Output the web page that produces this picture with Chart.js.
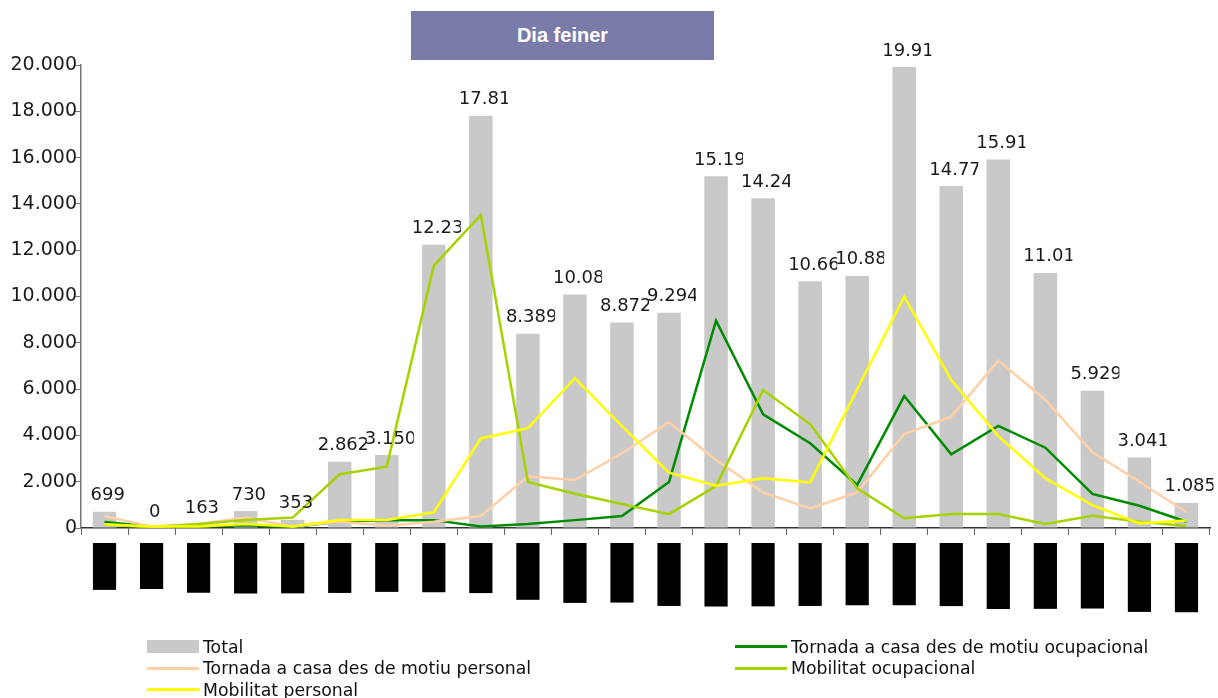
<!DOCTYPE html>
<html>
<head>
<meta charset="utf-8">
<script src="https://cdn.jsdelivr.net/npm/chart.js@4/dist/chart.umd.min.js"></script>
<style>
  body { margin: 0; background: #fff; }
  #wrap { position: relative; width: 1218px; height: 698px; overflow: hidden; }
  #grafic { position: absolute; left: 0; top: 0; }
  #titol {
    position: absolute; left: 411px; top: 11px; width: 303px; height: 49px;
    background: #7b7ba9; color: #fff; font: bold 20px "Liberation Sans", Arial, sans-serif;
    display: flex; align-items: center; justify-content: center;
  }
  #llegenda {
    position: absolute; left: 147px; top: 636px;
    display: grid; grid-template-columns: 588px auto;
    font: 17.3px "DejaVu Sans", sans-serif; color: #111;
  }
  .item { display: flex; align-items: center; height: 21.5px; white-space: nowrap; }
  .mostra { width: 52px; margin-right: 4px; }
</style>
</head>
<body>
<div id="wrap">
  <canvas id="grafic" width="1218" height="698"></canvas>
  <div id="titol">Dia feiner</div>
  <div id="llegenda"></div>
</div>
<script>
// franges horàries (eix x)
const horaris = ['0h-1h', '1h-2h', '2h-3h', '3h-4h', '4h-5h', '5h-6h', '6h-7h', '7h-8h',
  '8h-9h', '9h-10h', '10h-11h', '11h-12h', '12h-13h', '13h-14h', '14h-15h', '15h-16h',
  '16h-17h', '17h-18h', '18h-19h', '19h-20h', '20h-21h', '21h-22h', '22h-23h', '23h-24h'];

const total = [699, 0, 163, 730, 353, 2862, 3150, 12234, 17812, 8389, 10083, 8872,
  9294, 15193, 14245, 10664, 10886, 19913, 14772, 15915, 11017, 5929, 3041, 1085];

const tornadaOcupacional = [260, 60, 60, 120, 40, 280, 340, 340, 60, 170, 340, 520,
  1990, 8960, 4910, 3660, 1860, 5700, 3180, 4410, 3470, 1470, 960, 270];

const tornadaPersonal = [520, 60, 170, 450, 60, 270, 100, 270, 520, 2230, 2070, 3230,
  4570, 2940, 1540, 850, 1540, 4060, 4810, 7240, 5530, 3270, 2000, 680];

const mobilitatOcupacional = [150, 30, 170, 350, 450, 2320, 2650, 11330, 13520, 1990, 1480, 1040,
  600, 1810, 5960, 4490, 1710, 420, 600, 600, 170, 530, 270, 90];

const mobilitatPersonal = [160, 60, 60, 170, 60, 350, 350, 680, 3870, 4310, 6470, 4400,
  2390, 1830, 2150, 1970, 5990, 9990, 6390, 3970, 2150, 990, 200, 320];

const yTicks = [0, 2000, 4000, 6000, 8000, 10000, 12000, 14000, 16000, 18000, 20000];

function fmt(v) {
  return v.toString().replace(/\B(?=(\d{3})+(?!\d))/g, '.');
}

// etiquetes de valor sobre les barres, retallades com a l'original
const etiquetesTotal = {
  id: 'etiquetesTotal',
  afterDatasetsDraw(chart) {
    const ctx = chart.ctx;
    const meta = chart.getDatasetMeta(0);
    ctx.save();
    ctx.font = '18px "DejaVu Sans"';
    ctx.fillStyle = '#1a1a1a';
    ctx.textBaseline = 'alphabetic';
    meta.data.forEach((bar, i) => {
      const text = fmt(total[i]);
      const left = bar.x - 22, right = bar.x + 27;
      const w = ctx.measureText(text).width;
      const x = w <= 49.5 ? bar.x + 3.25 - w / 2 : left;
      ctx.save();
      ctx.beginPath();
      ctx.rect(left - 10, bar.y - 40, right - left + 10, 40);
      ctx.clip();
      ctx.fillText(text, x, bar.y - 11.5);
      ctx.restore();
    });
    ctx.restore();
  }
};

const linia = (label, data, color, order) => ({
  type: 'line', label, data, borderColor: color, backgroundColor: color,
  borderWidth: 2.5, pointRadius: 0, tension: 0, fill: false, order
});

const chart = new Chart(document.getElementById('grafic'), {
  type: 'bar',
  data: {
    labels: horaris,
    datasets: [
      { type: 'bar', label: 'Total', data: total, backgroundColor: '#c9c9c9',
        barPercentage: 0.5, categoryPercentage: 1, order: 5 },
      linia('Tornada a casa des de motiu ocupacional', tornadaOcupacional, '#008c00', 4),
      linia('Tornada a casa des de motiu personal', tornadaPersonal, '#ffcfa6', 3),
      linia('Mobilitat ocupacional', mobilitatOcupacional, '#a6d200', 2),
      linia('Mobilitat personal', mobilitatPersonal, '#ffff00', 1)
    ]
  },
  options: {
    responsive: false,
    animation: false,
    layout: { padding: { left: 0, right: 8, top: 65, bottom: 0 } },
    plugins: { legend: { display: false }, tooltip: { enabled: false } },
    scales: {
      x: {
        offset: true,
        grid: { offset: true, drawOnChartArea: false, tickLength: 7, color: '#666' },
        border: { color: '#333', width: 1.5 },
        ticks: {
          autoSkip: false, minRotation: 90, maxRotation: 90, padding: 10, labelOffset: -9.6,
          font: { family: 'Inter', size: 16 }, color: '#000',
          showLabelBackdrop: true, backdropColor: '#000', backdropPadding: 2
        },
        afterFit(s) { s.height = 170; }
      },
      y: {
        min: 0, max: 20000,
        afterBuildTicks(s) { s.ticks = yTicks.map(v => ({ value: v })); },
        ticks: { callback: v => fmt(v), font: { family: 'DejaVu Sans', size: 19 },
          color: '#1a1a1a', padding: -2 },
        grid: { drawOnChartArea: false, tickLength: 6, color: '#777' },
        border: { color: '#777', width: 1.5 },
        afterFit(s) { s.width = 81; }
      }
    }
  },
  plugins: [etiquetesTotal]
});

// llegenda en dues columnes, feta a partir dels conjunts de dades
const llegenda = document.getElementById('llegenda');
chart.data.datasets.forEach(ds => {
  const item = document.createElement('div');
  item.className = 'item';
  const m = document.createElement('span');
  m.className = 'mostra';
  m.style.background = ds.type === 'bar' ? ds.backgroundColor : ds.borderColor;
  m.style.height = ds.type === 'bar' ? '13px' : '3px';
  item.appendChild(m);
  item.appendChild(document.createTextNode(ds.label));
  llegenda.appendChild(item);
});
</script>
</body>
</html>
